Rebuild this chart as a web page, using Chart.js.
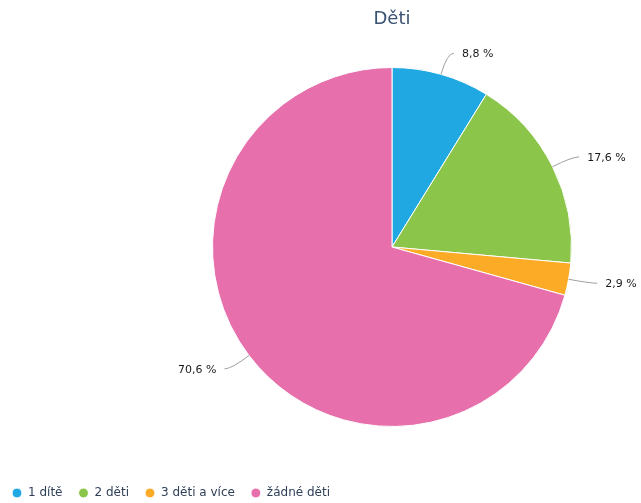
<!DOCTYPE html>
<html>
<head>
<meta charset="utf-8">
<script src="https://cdn.jsdelivr.net/npm/chart.js@4/dist/chart.umd.min.js"></script>
<style>
  html, body { margin: 0; padding: 0; background: #ffffff; }
  #wrap { width: 641px; height: 503px; position: relative; }
</style>
</head>
<body>
<div id="wrap"><canvas id="c" width="641" height="503"></canvas></div>
<script>
const titleText = 'Děti';
const categories = ['1 dítě', '2 děti', '3 děti a více', 'žádné děti'];
const values = [8.8, 17.6, 2.9, 70.6];
const colors = ['#1fa8e1', '#8bc64a', '#fcab26', '#e76fac'];

const LEGEND_PAD = 16;

const legendMover = {
  id: 'legendMover',
  afterLayout(chart) {
    const lg = chart.legend;
    if (!lg) return;
    const h = lg.height;
    lg.left = 12 - LEGEND_PAD;
    lg.right = 641;
    lg.width = lg.right - lg.left;
    lg.top = 493 - 6 - LEGEND_PAD;
    lg.bottom = lg.top + h;
  }
};

const pieLabels = {
  id: 'pieLabels',
  afterDatasetsDraw(chart) {
    const ctx = chart.ctx;
    const meta = chart.getDatasetMeta(0);
    ctx.save();
    ctx.font = '11px "DejaVu Sans"';
    meta.data.forEach((arc, i) => {
      const p = arc.getProps(['x', 'y', 'startAngle', 'endAngle', 'outerRadius'], true);
      const mid = (p.startAngle + p.endAngle) / 2;
      const cos = Math.cos(mid), sin = Math.sin(mid);
      const r = p.outerRadius;
      const ex = p.x + cos * r, ey = p.y + sin * r;
      const mx = p.x + cos * (r + 22), my = p.y + sin * (r + 22);
      const right = cos >= 0;
      const lx = mx + (right ? 7 : -7);
      ctx.strokeStyle = '#a0a0a0';
      ctx.lineWidth = 1;
      ctx.beginPath();
      ctx.moveTo(ex, ey);
      ctx.quadraticCurveTo(mx, my, lx, my);
      ctx.stroke();
      const txt = values[i].toFixed(1).replace('.', ',') + ' %';
      ctx.fillStyle = '#1a1a1a';
      ctx.textBaseline = 'middle';
      ctx.textAlign = right ? 'left' : 'right';
      ctx.fillText(txt, lx + (right ? 8 : -8), my + 1);
    });
    ctx.restore();
  }
};

new Chart(document.getElementById('c'), {
  type: 'pie',
  data: {
    labels: categories,
    datasets: [{
      data: values,
      backgroundColor: colors,
      borderColor: '#ffffff',
      borderWidth: 1
    }]
  },
  options: {
    responsive: false,
    animation: false,
    layout: { padding: { left: 143, right: 0, top: 9, bottom: 38 } },
    plugins: {
      title: {
        display: true,
        text: titleText,
        color: '#3a5273',
        font: { family: '"DejaVu Sans"', size: 18, weight: 'normal' },
        padding: { top: 0, bottom: 36.4 }
      },
      legend: {
        display: true,
        position: 'bottom',
        align: 'start',
        labels: {
          usePointStyle: true,
          pointStyle: 'circle',
          boxWidth: 10,
          boxHeight: 7,
          padding: LEGEND_PAD,
          color: '#2e3f57',
          font: { family: '"DejaVu Sans"', size: 12 }
        }
      },
      tooltip: { enabled: false }
    }
  },
  plugins: [legendMover, pieLabels]
});
</script>
</body>
</html>
